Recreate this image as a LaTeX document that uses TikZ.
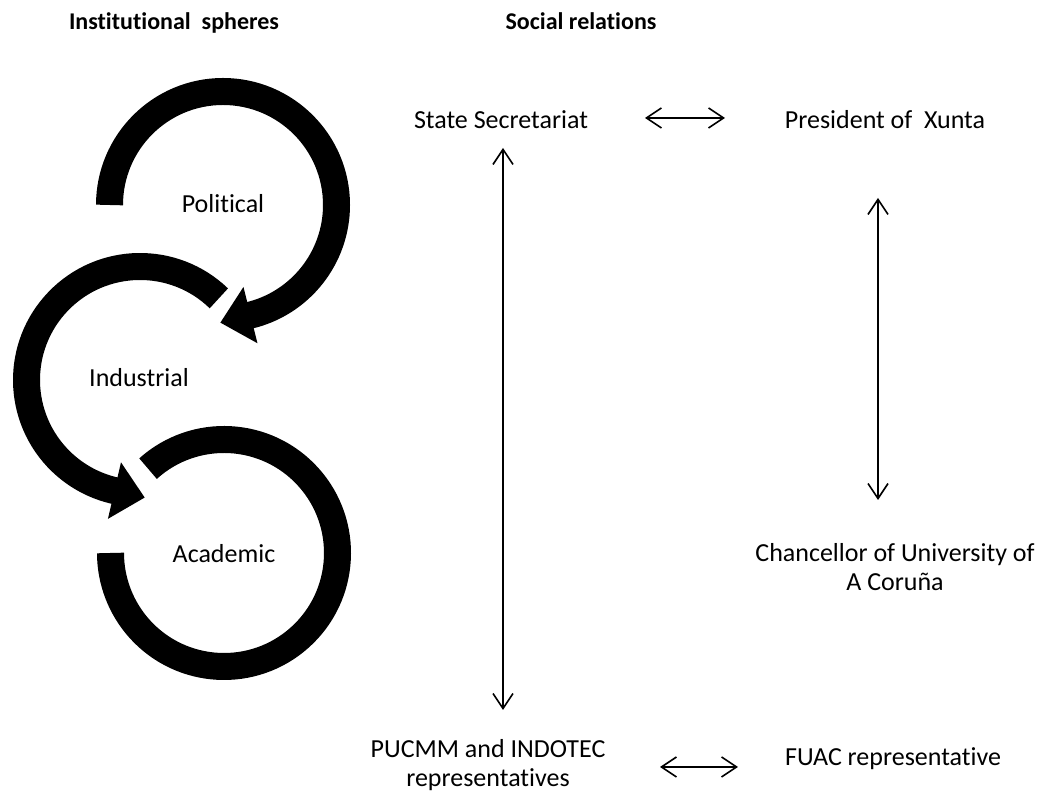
\documentclass[tikz,border=0pt]{standalone}
\usepackage{fontspec}
\setmainfont{Carlito}[Ligatures=NoCommon]
\usetikzlibrary{arrows.meta,calc}
\begin{document}
\begin{tikzpicture}[x=1pt,y=1pt,
  lbl/.style={font=\fontsize{26}{29}\selectfont, inner sep=0pt, align=center},
  hdr/.style={font=\fontsize{24}{28}\selectfont\bfseries, inner sep=0pt},
  ring/.style={line width=27pt, black},
  head/.style={fill=black},
  rel/.style={line width=1.6pt, {Straight Barb[length=15pt,width=20pt]}-{Straight Barb[length=15pt,width=20pt]}}]
\useasboundingbox (0,0) rectangle (1053,794);
% headings
\node[hdr, anchor=base] (h1) at (174,764) {Institutional\ \ spheres};
\node[hdr, anchor=base] (h2) at (581,764) {Social relations};
% ring centres
\coordinate (pc) at (223,589);
\coordinate (ic) at (140,414);
\coordinate (ac) at (224,241);
% Political ring
\draw[ring] ($(pc)+(180:113.5)$) arc[start angle=180, end angle=-77, radius=113.5];
\fill[head] ($(pc)+(-76:142.5)$) -- ($(pc)+(-76:84.5)$) -- ($(pc)+(-76:113.5)+(-166:31)$) -- cycle;
% Industrial ring
\draw[ring] ($(ic)+(46:113.5)$) arc[start angle=46, end angle=258, radius=113.5];
\fill[head] ($(ic)+(257:142.5)$) -- ($(ic)+(257:84.5)$) -- ($(ic)+(257:113.5)+(347:31)$) -- cycle;
% Academic ring
\draw[ring] ($(ac)+(132:113.5)$) arc[start angle=132, end angle=-180, radius=113.5];
% sphere labels
\node[lbl, anchor=base] (pol) at (223,581) {Political};
\node[lbl, anchor=base] (ind) at (139,407) {Industrial};
\node[lbl, anchor=base] (aca) at (224,231) {Academic};
% social relations
\node[lbl, anchor=base] (ss) at (501,665) {State Secretariat};
\node[lbl, anchor=base] (pr) at (885,665) {President of\ \ Xunta};
\node[lbl] (ch) at (895,227) {Chancellor of University of\\A Coruña};
\node[lbl] (pu) at (488,29) {PUCMM and INDOTEC\\representatives};
\node[lbl, anchor=base] (fu) at (893,28) {FUAC representative};
% connector end points
\coordinate (t1) at (645,676);
\coordinate (t2) at (725,676);
\coordinate (v1) at (503,646);
\coordinate (v2) at (503,84);
\coordinate (r1) at (878,596);
\coordinate (r2) at (878,294);
\coordinate (b1) at (660,27);
\coordinate (b2) at (738,27);
\draw[rel] (t1) -- (t2);
\draw[rel] (v1) -- (v2);
\draw[rel] (r1) -- (r2);
\draw[rel] (b1) -- (b2);
\end{tikzpicture}
\end{document}
